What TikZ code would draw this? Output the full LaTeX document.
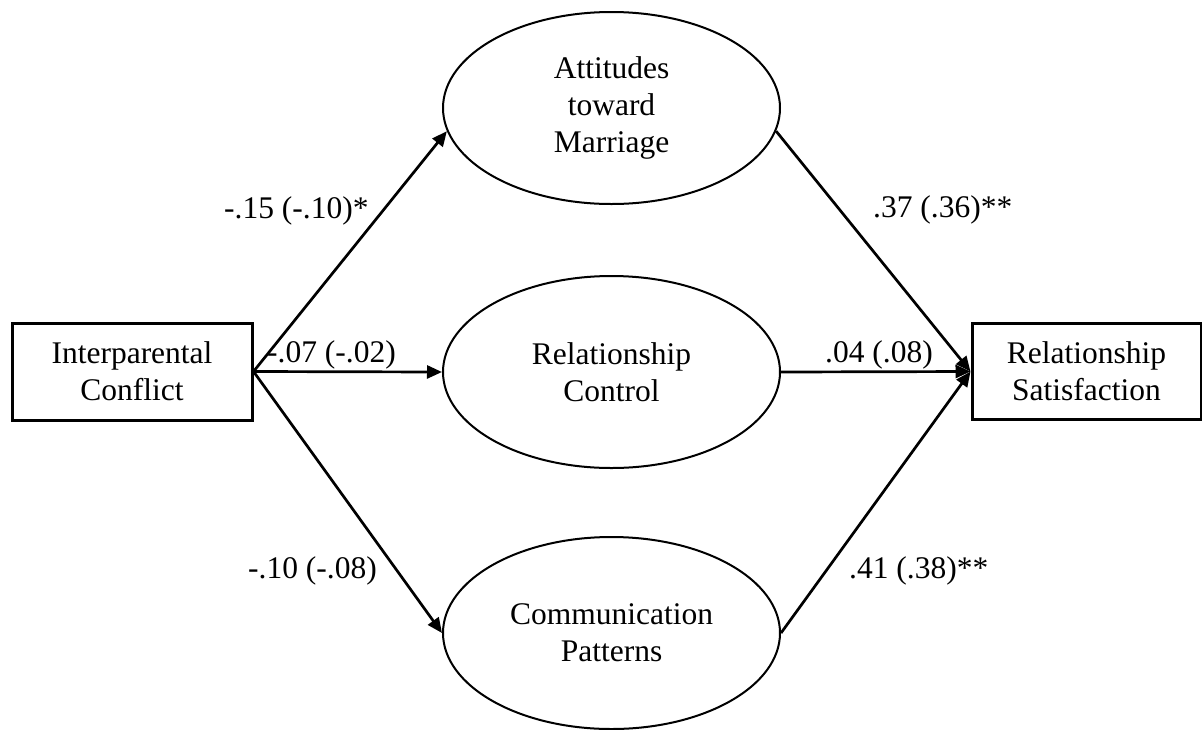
\documentclass[tikz,border=0pt]{standalone}
\usepackage{fontspec}
\setmainfont{Liberation Serif}
\usetikzlibrary{arrows.meta,shapes.geometric}
\begin{document}
\begin{tikzpicture}[x=1pt,y=-1pt,
  every node/.style={font=\fontsize{31.5}{37}\selectfont, align=center},
  obsbox/.style={draw, line width=3pt, inner sep=0pt},
  latent/.style={draw, ellipse, line width=2pt, inner sep=0pt, minimum width=337pt, minimum height=192pt},
  arr/.style={line width=2.7pt, -{Triangle[length=15pt,width=13pt]}},
  coef/.style={anchor=base west, inner sep=0pt}]
\useasboundingbox (0,0) rectangle (1202,729);
\node[obsbox, minimum width=240pt, minimum height=97pt] (ic) at (132,371.5) {Interparental\\Conflict};
\node[obsbox, minimum width=229pt, minimum height=96pt] (rs) at (1086.5,371.5) {Relationship\\Satisfaction};
\node[latent] (att) at (611.5,108) {Attitudes\\toward\\Marriage};
\node[latent] (rc) at (611.5,372) {Relationship\\Control};
\node[latent] (cp) at (611.5,633) {Communication\\Patterns};
\draw[arr] (ic.east) -- (att.188);
\draw[arr] (ic.east) -- (rc.west);
\draw[arr] (ic.east) -- (cp.west);
\draw[arr] (att.352) -- (rs.west);
\draw[arr] (rc.east) -- (rs.west);
\draw[arr] (cp.east) -- (rs.west);
\node[coef] (l1) at (224,218) {-.15 (-.10)*};
\node[coef] (l2) at (267,362) {-.07 (-.02)};
\node[coef] (l3) at (248,578) {-.10 (-.08)};
\node[coef] (l4) at (873,217) {.37 (.36)**};
\node[coef] (l5) at (825,362) {.04 (.08)};
\node[coef] (l6) at (849,578) {.41 (.38)**};
\end{tikzpicture}
\end{document}
